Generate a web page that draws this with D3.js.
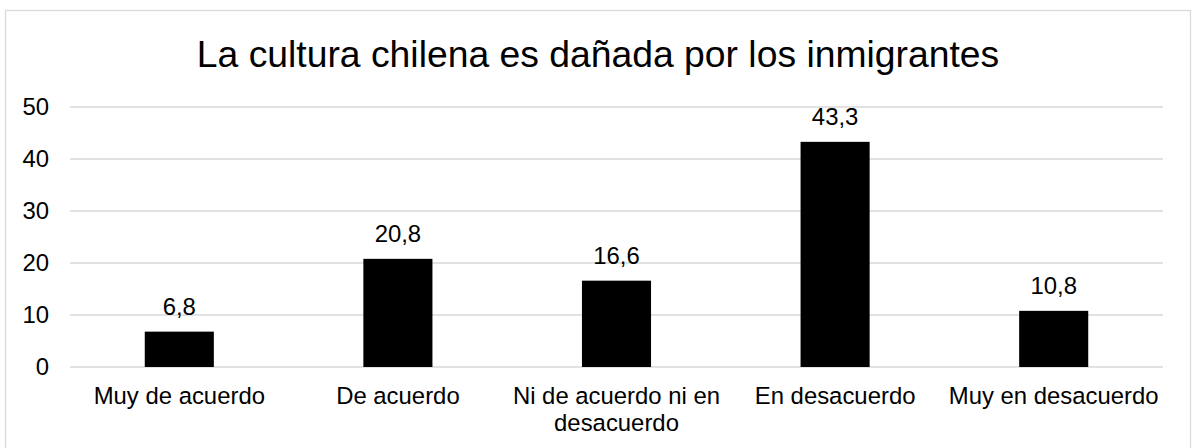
<!DOCTYPE html>
<html>
<head>
<meta charset="utf-8">
<script src="https://cdn.jsdelivr.net/npm/d3@7"></script>
<style>
  body { margin: 0; background: #fff; }
</style>
</head>
<body>
<div id="chart"></div>
<script>
var title = "La cultura chilena es dañada por los inmigrantes";
var categories = ["Muy de acuerdo", "De acuerdo", "Ni de acuerdo ni en desacuerdo", "En desacuerdo", "Muy en desacuerdo"];
var values = [6.8, 20.8, 16.6, 43.3, 10.8];
var yTicks = [0, 10, 20, 30, 40, 50];

var W = 1192, H = 448;
var margin = {top: 107, right: 29, bottom: 81, left: 70},
    width = W - margin.left - margin.right,
    height = H - margin.top - margin.bottom;

var svg = d3.select("#chart")
  .append("svg")
    .attr("width", W)
    .attr("height", H)
    .style("font-family", "Arial, 'Liberation Sans', sans-serif");

// chart border
svg.append("rect")
  .attr("x", 5.5)
  .attr("y", 10.5)
  .attr("width", 1185)
  .attr("height", 446)
  .attr("fill", "none")
  .attr("stroke", "#d9d9d9")
  .attr("stroke-width", 1.3);

svg.append("text")
  .attr("x", 598)
  .attr("y", 67)
  .attr("text-anchor", "middle")
  .style("font-size", "37.3px")
  .style("fill", "#000")
  .text(title);

var g = svg.append("g")
  .attr("transform", "translate(" + margin.left + "," + margin.top + ")");

var x = d3.scaleBand()
  .domain(categories)
  .range([0, width])
  .paddingInner(0.684)
  .paddingOuter(0.342);

var y = d3.scaleLinear()
  .domain([0, 50])
  .range([height, 0]);

// gridlines
g.append("g")
  .selectAll("line")
  .data(yTicks).enter()
  .append("line")
    .attr("x1", 0)
    .attr("x2", width)
    .attr("y1", function(d) { return y(d); })
    .attr("y2", function(d) { return y(d); })
    .style("stroke", "#d9d9d9")
    .style("stroke-width", 1.3);

// y axis labels
var yAxis = g.append("g")
  .call(d3.axisLeft(y).tickValues(yTicks).tickSize(0).tickPadding(21));
yAxis.select(".domain").remove();
yAxis.selectAll("text")
  .style("font-size", "23.9px")
  .style("font-family", "Arial, 'Liberation Sans', sans-serif")
  .style("fill", "#000");

// bars
g.selectAll(".bar")
  .data(values).enter()
  .append("rect")
    .attr("class", "bar")
    .attr("x", function(d, i) { return x(categories[i]); })
    .attr("y", function(d) { return y(d); })
    .attr("width", x.bandwidth())
    .attr("height", function(d) { return height - y(d); })
    .attr("fill", "#000");

// value labels
g.selectAll(".lbl")
  .data(values).enter()
  .append("text")
    .attr("class", "lbl")
    .attr("x", function(d, i) { return x(categories[i]) + x.bandwidth() / 2; })
    .attr("y", function(d) { return y(d) - 17; })
    .attr("text-anchor", "middle")
    .style("font-size", "23.9px")
    .style("fill", "#000")
    .text(function(d) { return String(d.toFixed(1)).replace(".", ","); });

// x axis labels
var xAxis = g.append("g")
  .attr("transform", "translate(0," + height + ")")
  .call(d3.axisBottom(x).tickSize(0).tickPadding(0));
xAxis.select(".domain").remove();
xAxis.selectAll("text")
  .style("font-size", "23.9px")
  .style("font-family", "Arial, 'Liberation Sans', sans-serif")
  .style("fill", "#000")
  .attr("dy", null)
  .attr("y", 37)
  .call(wrap, x.step() - 8);

function wrap(text, w) {
  text.each(function() {
    var t = d3.select(this),
        words = t.text().split(/\s+/),
        line = [],
        lineNo = 0,
        yy = t.attr("y"),
        tspan = t.text(null).append("tspan").attr("x", 0).attr("y", yy);
    words.forEach(function(word) {
      line.push(word);
      tspan.text(line.join(" "));
      if (tspan.node().getComputedTextLength() > w && line.length > 1) {
        line.pop();
        tspan.text(line.join(" "));
        line = [word];
        lineNo++;
        tspan = t.append("tspan").attr("x", 0).attr("y", +yy + lineNo * 27).text(word);
      }
    });
  });
}
</script>
</body>
</html>
